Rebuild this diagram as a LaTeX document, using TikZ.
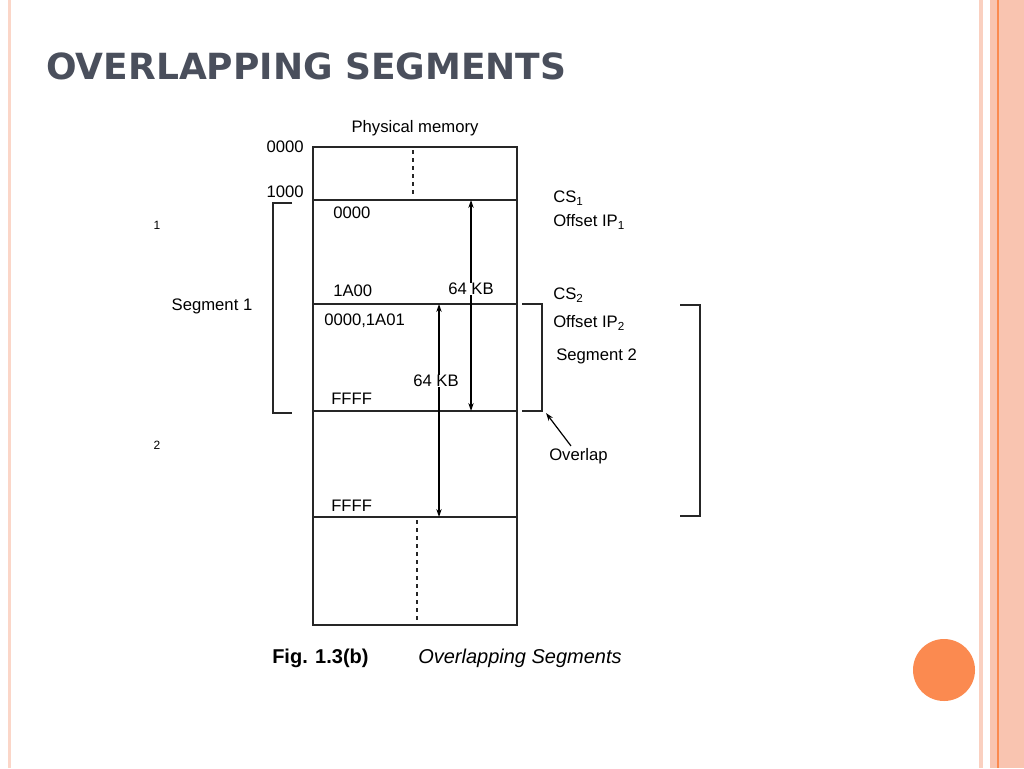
\documentclass[tikz,border=0pt]{standalone}
\usepackage{fontspec}
\setmainfont{Liberation Sans}
\newfontfamily\ttlfont{DejaVu Sans}
\usetikzlibrary{arrows.meta}
\definecolor{salmon}{HTML}{F9C4B0}
\definecolor{orng}{HTML}{FB8A50}
\definecolor{ttl}{HTML}{4A4F5C}
\begin{document}
\begin{tikzpicture}[x=0.75pt,y=-0.75pt,
  lbl/.style={font=\fontsize{12.5}{14}\selectfont,inner sep=0pt},
  ln/.style={line width=1pt,black!85},
  arr/.style={line width=0.9pt,-{Stealth[length=6pt,width=4pt]}}]
\useasboundingbox (0,0) rectangle (1024,768);
\fill[white] (0,0) rectangle (1024,768);
% borders
\fill[salmon!70] (8,0) rectangle (11,768);
\fill[salmon!80] (979,0) rectangle (983,768);
\fill[salmon] (990,0) rectangle (1024,768);
\draw[orng,line width=0.8pt] (998,0) -- (998,768);
\fill[orng] (944,670) circle (31);
% title
\node[anchor=west,text=ttl,font=\ttlfont\fontsize{27}{30}\selectfont\bfseries,inner sep=0pt] (title) at (46,66) {OVERLAPPING SEGMENTS};
% memory
\draw[ln] (313,147) rectangle (517,625);
\foreach \y in {200,304,411,517} \draw[ln] (313,\y) -- (517,\y);
\draw[ln,dashed] (413,150) -- (413,197);
\draw[ln,dashed] (417,520) -- (417,622);
\node[lbl] (pm) at (415,128) {Physical memory};
\node[lbl,anchor=east] (a0) at (304,147) {0000};
\node[lbl,anchor=east] (a1) at (304,192) {1000};
\node[lbl,anchor=west] (b0) at (333,213) {0000};
\node[lbl,anchor=west] (b1) at (333,291) {1A00};
\node[lbl,anchor=west] (b2) at (324,321) {0000,1A01};
\node[lbl,anchor=west] (b3) at (331,399) {FFFF};
\node[lbl,anchor=west] (b4) at (331,506) {FFFF};
\node[lbl] (k1) at (471,289) {64 KB};
\node[lbl] (k2) at (436,381) {64 KB};
\coordinate (t1) at (471,200); \coordinate (e1) at (471,411);
\coordinate (t2) at (439,304); \coordinate (e2) at (439,517);
\draw[arr] (k1.north -| t1) -- (t1);
\draw[arr] (k1.south -| t1) -- (e1);
\draw[arr] (k2.north -| t2) -- (t2);
\draw[arr] (k2.south -| t2) -- (e2);
% right labels
\node[lbl,anchor=west] (cs1) at (553,198) {CS\textsubscript{1}};
\node[lbl,anchor=west] (ip1) at (553,222) {Offset IP\textsubscript{1}};
\node[lbl,anchor=west] (cs2) at (553,295) {CS\textsubscript{2}};
\node[lbl,anchor=west] (ip2) at (553,323) {Offset IP\textsubscript{2}};
\node[lbl,anchor=west] (s2) at (556,356) {Segment 2};
\node[lbl,anchor=west] (ov) at (549,456) {Overlap};
\node[lbl] (s1) at (212,306) {Segment 1};
\node[lbl,font=\fontsize{9}{10}\selectfont] (n1) at (157,225) {1};
\node[lbl,font=\fontsize{9}{10}\selectfont] (n2) at (157,445) {2};
% brackets
\draw[ln] (292,203) -- (273,203) -- (273,413) -- (292,413);
\draw[ln] (522,304) -- (542,304) -- (542,411) -- (522,411);
\draw[ln] (680,305) -- (700,305) -- (700,516) -- (680,516);
\coordinate (ovt) at (546,413);
\draw[arr] (ov.north west) ++(22,-2) -- (ovt);
% caption
\node[anchor=west,font=\fontsize{15}{17}\selectfont\bfseries,inner sep=0pt] (fig) at (272,658) {Fig. 1.3(b)};
\node[anchor=west,font=\fontsize{15}{17}\selectfont\itshape,inner sep=0pt] (cap) at (418,658) {Overlapping Segments};
\end{tikzpicture}
\end{document}
